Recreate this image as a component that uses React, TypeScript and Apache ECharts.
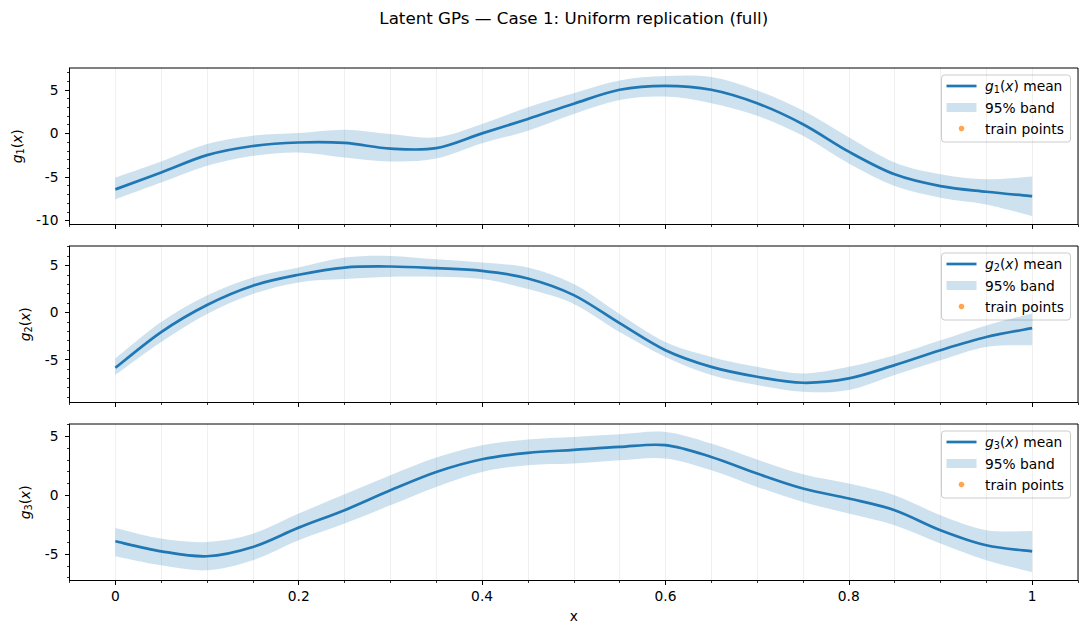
import React, { useEffect, useRef } from "react";
import * as echarts from "echarts";

const xs = [0, 0.05, 0.1, 0.15, 0.2, 0.25, 0.3, 0.35, 0.4, 0.45, 0.5, 0.55, 0.6, 0.65, 0.7, 0.75, 0.8, 0.85, 0.9, 0.95, 1];

const g1Mean = [-6.43, -4.5, -2.5, -1.45, -1.05, -1.1, -1.75, -1.7, 0.0, 1.65, 3.4, 5.0, 5.45, 5.0, 3.45, 1.05, -2.1, -4.7, -6.05, -6.7, -7.2];
const g1Lo = [-7.58, -5.65, -3.73, -2.58, -2.19, -2.77, -3.23, -2.9, -1.15, 0.3, 2.23, 3.84, 4.22, 3.46, 2.03, -0.28, -3.46, -6.05, -7.38, -8.16, -9.5];
const g1Hi = [-5.08, -3.23, -1.23, -0.27, 0.03, 0.42, -0.08, -0.46, 1.07, 3.0, 4.61, 6.07, 6.58, 6.46, 4.92, 2.61, -0.46, -3.35, -4.7, -5.27, -4.96];

const g2Mean = [-5.88, -2.08, 0.8, 2.85, 4.01, 4.78, 4.89, 4.71, 4.43, 3.62, 1.85, -1.13, -4.01, -5.78, -6.83, -7.47, -7.01, -5.6, -4.01, -2.61, -1.66];
const g2Lo = [-6.65, -3.14, -0.15, 1.97, 3.2, 3.55, 3.8, 3.8, 3.55, 2.49, 0.91, -2.08, -4.72, -6.65, -7.71, -8.42, -8.24, -6.65, -5.07, -3.66, -3.48];
const g2Hi = [-4.9, -1.02, 1.8, 3.73, 4.78, 5.84, 6.02, 5.66, 5.31, 4.78, 3.02, -0.15, -3.14, -4.72, -5.78, -6.48, -5.78, -4.54, -2.96, -1.37, -0.1];

const g3Mean = [-3.91, -4.76, -5.18, -4.39, -2.75, -1.27, 0.42, 1.98, 3.06, 3.6, 3.85, 4.1, 4.25, 3.25, 1.84, 0.57, -0.28, -1.27, -2.97, -4.25, -4.76];
const g3Lo = [-5.18, -5.95, -6.37, -5.52, -3.82, -2.41, -0.85, 0.71, 1.98, 2.55, 2.69, 2.97, 3.12, 2.12, 0.71, -0.57, -1.56, -2.55, -4.1, -5.52, -6.52];
const g3Hi = [-2.78, -3.68, -3.97, -3.26, -1.56, 0.08, 1.7, 3.2, 4.25, 4.73, 4.95, 5.18, 5.38, 4.39, 3.03, 1.78, 0.99, 0.0, -1.7, -2.97, -3.03];

const xMajor = [0, 0.2, 0.4, 0.6, 0.8, 1];
const y1Major = [-10, -5, 0, 5];
const y2Major = [-5, 0, 5];
const y3Major = [-5, 0, 5];
const y1Minor = [-10, -9, -8, -7, -6, -5, -4, -3, -2, -1, 0, 1, 2, 3, 4, 5, 6, 7];
const y2Minor = [-9, -8, -7, -6, -5, -4, -3, -2, -1, 0, 1, 2, 3, 4, 5, 6, 7];
const y3Minor = [-7, -6, -5, -4, -3, -2, -1, 0, 1, 2, 3, 4, 5, 6];
const y1Range = [-10.46, 7.5];
const y2Range = [-9.57, 7.07];
const y3Range = [-7.24, 6.05];

const TITLE = "Latent GPs — Case 1: Uniform replication (full)";
const BAND_LABEL = "95% band";
const TRAIN_LABEL = "train points";

const FONT = "DejaVu Sans";
const FS = 13.8;
const BLUE = "#1f77b4";
const BAND = "rgba(31,119,180,0.22)";

const rich = {
  i: { fontStyle: "italic", fontSize: FS, fontFamily: FONT, color: "#000", lineHeight: 17 },
  n: { fontSize: FS, fontFamily: FONT, color: "#000", lineHeight: 17 },
  s: { fontSize: 9.7, fontFamily: FONT, color: "#000", verticalAlign: "bottom", lineHeight: 9 },
};

const panels = [
  { idx: "1", mean: g1Mean, lo: g1Lo, hi: g1Hi, range: y1Range, major: y1Major, minor: y1Minor, nameGap: 37 },
  { idx: "2", mean: g2Mean, lo: g2Lo, hi: g2Hi, range: y2Range, major: y2Major, minor: y2Minor, nameGap: 29 },
  { idx: "3", mean: g3Mean, lo: g3Lo, hi: g3Hi, range: y3Range, major: y3Major, minor: y3Minor, nameGap: 29 },
];

const TOPS = [68, 246, 424];
const PH = 156.5;
const LEFT = 69.5;
const RIGHT = 1078;

// Catmull-Rom spline through pixel points, as cubic bezier path commands
function curve(pts: number[][]): string {
  let d = "";
  const n = pts.length;
  for (let i = 0; i < n - 1; i++) {
    const p0 = pts[Math.max(i - 1, 0)];
    const p1 = pts[i];
    const p2 = pts[i + 1];
    const p3 = pts[Math.min(i + 2, n - 1)];
    const c1x = p1[0] + (p2[0] - p0[0]) / 6;
    const c1y = p1[1] + (p2[1] - p0[1]) / 6;
    const c2x = p2[0] - (p3[0] - p1[0]) / 6;
    const c2y = p2[1] - (p3[1] - p1[1]) / 6;
    d += ` C ${c1x} ${c1y} ${c2x} ${c2y} ${p2[0]} ${p2[1]}`;
  }
  return d;
}

function legendGroup(k: number, idx: string) {
  const top = TOPS[k] + 7;
  const bx = 941.5;
  const tx = 985;
  return {
    type: "group",
    z: 100,
    children: [
      {
        type: "rect",
        shape: { x: bx, y: top, width: 129, height: 67, r: 3 },
        style: { fill: "rgba(255,255,255,0.8)", stroke: "#cccccc", lineWidth: 1 },
      },
      {
        type: "line",
        shape: { x1: bx + 5, y1: top + 11, x2: bx + 35, y2: top + 11 },
        style: { stroke: BLUE, lineWidth: 2.7 },
      },
      {
        type: "rect",
        shape: { x: bx + 5, y: top + 28, width: 30, height: 9 },
        style: { fill: BAND },
      },
      {
        type: "circle",
        shape: { cx: bx + 20, cy: top + 53.5, r: 2.8 },
        style: { fill: "rgba(255,127,14,0.7)" },
      },
      {
        type: "text",
        x: tx,
        y: top + 11,
        style: {
          text: "{i|g}{s|" + idx + "}{n|(}{i|x}{n|) mean}",
          rich,
          font: `${FS}px ${FONT}`,
          textVerticalAlign: "middle",
          verticalAlign: "middle",
        },
      },
      {
        type: "text",
        x: tx,
        y: top + 32.5,
        style: {
          text: BAND_LABEL,
          font: `${FS}px ${FONT}`,
          fill: "#000",
          textVerticalAlign: "middle",
          verticalAlign: "middle",
        },
      },
      {
        type: "text",
        x: tx,
        y: top + 53.5,
        style: {
          text: TRAIN_LABEL,
          font: `${FS}px ${FONT}`,
          fill: "#000",
          textVerticalAlign: "middle",
          verticalAlign: "middle",
        },
      },
    ],
  };
}

export default function App() {
  const ref = useRef<HTMLDivElement>(null);

  useEffect(() => {
    if (!ref.current) return;
    const chart = echarts.init(ref.current, null, { renderer: "svg" });

    const grid: any[] = [];
    const xAxis: any[] = [];
    const yAxis: any[] = [];
    const series: any[] = [];

    panels.forEach((p, k) => {
      grid.push({
        left: LEFT,
        width: RIGHT - LEFT,
        top: TOPS[k],
        height: PH,
        show: true,
        borderColor: "#000",
        borderWidth: 1,
        backgroundColor: "transparent",
      });
      xAxis.push({
        gridIndex: k,
        type: "value",
        position: "bottom",
        min: -0.05,
        max: 1.05,
        interval: 0.05,
        axisLine: { show: false, onZero: false },
        axisTick: { show: true, length: 2.5, lineStyle: { color: "#000", width: 0.8 } },
        axisLabel: { show: false },
        splitLine: { show: true, lineStyle: { color: "rgba(0,0,0,0.075)", width: 0.8 } },
      });
      xAxis.push({
        gridIndex: k,
        type: "value",
        position: "bottom",
        min: -0.05,
        max: 1.05,
        axisLine: { show: true, onZero: false, lineStyle: { color: "#000", width: 1 } },
        axisTick: { show: true, customValues: xMajor, length: 4.5, lineStyle: { color: "#000", width: 1 } },
        axisLabel: {
          show: k === 2,
          customValues: xMajor,
          margin: 8,
          fontSize: FS,
          fontFamily: FONT,
          color: "#000",
        },
        splitLine: { show: false },
        name: k === 2 ? "x" : "",
        nameLocation: "middle",
        nameGap: 28,
        nameTextStyle: { fontSize: FS, fontFamily: FONT, color: "#000" },
      });
      yAxis.push({
        gridIndex: k,
        type: "value",
        position: "left",
        min: p.range[0],
        max: p.range[1],
        axisLine: { show: true, onZero: false, lineStyle: { color: "#000", width: 1 } },
        axisTick: { show: true, customValues: p.major, length: 4.5, lineStyle: { color: "#000", width: 1 } },
        axisLabel: {
          customValues: p.major,
          margin: 11,
          fontSize: FS,
          fontFamily: FONT,
          color: "#000",
        },
        splitLine: { show: false },
        name: "{i|g}{s|" + p.idx + "}{n|(}{i|x}{n|)}",
        nameLocation: "middle",
        nameRotate: 90,
        nameGap: p.nameGap,
        nameTextStyle: { fontSize: FS, fontFamily: FONT, color: "#000", rich },
      });
      yAxis.push({
        gridIndex: k,
        type: "value",
        position: "left",
        offset: 0,
        min: p.range[0],
        max: p.range[1],
        axisLine: { show: false, onZero: false },
        axisTick: { show: true, customValues: p.minor, length: 2.5, lineStyle: { color: "#000", width: 0.8 } },
        axisLabel: { show: false },
        splitLine: { show: false },
      });

      const xi = 2 * k + 1;
      const yi = 2 * k;
      const lo = p.lo;
      const hi = p.hi;
      const mean = p.mean;
      series.push({
        type: "custom",
        name: BAND_LABEL,
        xAxisIndex: xi,
        yAxisIndex: yi,
        data: xs.map((x, i) => [x, lo[i], hi[i]]),
        encode: { x: 0, y: [1, 2] },
        silent: true,
        z: 1,
        renderItem: (params: any, api: any) => {
          if (params.dataIndex !== 0) return null;
          const up = xs.map((x, i) => api.coord([x, hi[i]]));
          const dn = xs.map((x, i) => api.coord([x, lo[i]])).reverse();
          const d =
            `M ${up[0][0]} ${up[0][1]}` +
            curve(up) +
            ` L ${dn[0][0]} ${dn[0][1]}` +
            curve(dn) +
            " Z";
          return {
            type: "path",
            shape: { pathData: d },
            style: { fill: BAND, stroke: "none" },
          };
        },
      });
      series.push({
        type: "custom",
        name: "g" + p.idx + "(x) mean",
        xAxisIndex: xi,
        yAxisIndex: yi,
        data: xs.map((x, i) => [x, mean[i]]),
        encode: { x: 0, y: 1 },
        silent: true,
        z: 3,
        renderItem: (params: any, api: any) => {
          if (params.dataIndex !== 0) return null;
          const pts = xs.map((x, i) => api.coord([x, mean[i]]));
          const d = `M ${pts[0][0]} ${pts[0][1]}` + curve(pts);
          return {
            type: "path",
            shape: { pathData: d },
            style: { fill: "none", stroke: BLUE, lineWidth: 2.7, lineJoin: "round" },
          };
        },
      });
    });

    const graphic: any[] = [
      {
        type: "text",
        x: (LEFT + RIGHT) / 2,
        y: 18,
        style: {
          text: TITLE,
          font: `16.7px ${FONT}`,
          fill: "#000",
          textAlign: "center",
          align: "center",
          textVerticalAlign: "middle",
          verticalAlign: "middle",
        },
      },
      legendGroup(0, "1"),
      legendGroup(1, "2"),
      legendGroup(2, "3"),
    ];

    chart.setOption({
      animation: false,
      backgroundColor: "#fff",
      textStyle: { fontFamily: FONT },
      grid,
      xAxis,
      yAxis,
      series,
      graphic,
    });

    return () => chart.dispose();
  }, []);

  return (
    <div
      ref={ref}
      style={{ position: "fixed", left: 0, top: 0, width: 1088, height: 638, background: "#fff" }}
    />
  );
}
